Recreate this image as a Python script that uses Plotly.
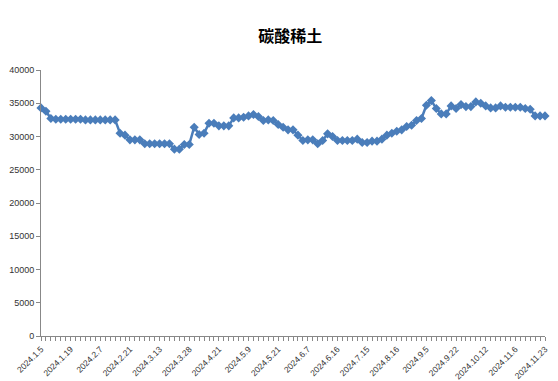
import plotly.graph_objects as go

title_text = "碳酸稀土"

tick_labels = ["2024.1.5", "2024.1.19", "2024.2.7", "2024.2.21", "2024.3.13", "2024.3.28",
               "2024.4.21", "2024.5.9", "2024.5.21", "2024.6.7", "2024.6.16", "2024.7.15",
               "2024.8.16", "2024.9.5", "2024.9.22", "2024.10.12", "2024.11.6", "2024.11.23"]
label_step = 6

prices = [34300, 33800, 32700, 32600, 32600, 32600, 32600, 32600, 32600, 32500,
          32500, 32500, 32500, 32500, 32500, 32500, 30500, 30200, 29500, 29500,
          29500, 28900, 28900, 28900, 28900, 28900, 28900, 28100, 28100, 28800,
          28800, 31400, 30300, 30500, 32000, 32000, 31600, 31600, 31600, 32800,
          32800, 32900, 33100, 33300, 33000, 32400, 32500, 32400, 31800, 31400,
          31000, 31000, 30200, 29400, 29500, 29500, 28900, 29400, 30400, 30000,
          29400, 29400, 29400, 29400, 29600, 29100, 29100, 29300, 29300, 29600,
          30200, 30500, 30800, 31000, 31500, 31700, 32400, 32700, 34700, 35400,
          34200, 33400, 33400, 34600, 34200, 34800, 34500, 34500, 35200, 35000,
          34600, 34300, 34300, 34600, 34400, 34400, 34400, 34400, 34200, 34100,
          33100, 33100, 33100]

y_ticks = [0, 5000, 10000, 15000, 20000, 25000, 30000, 35000, 40000]

x_idx = list(range(len(prices)))
tick_pos = [i * label_step for i in range(len(tick_labels))]

color = "#4A7DBA"

fig = go.Figure()
fig.add_trace(go.Scatter(
    x=x_idx, y=prices, mode="lines+markers",
    line=dict(color=color, width=2.5),
    marker=dict(symbol="diamond", size=7, color=color),
    cliponaxis=False, showlegend=False,
))

fig.update_layout(
    width=558, height=381,
    margin=dict(l=41, r=13, t=70, b=45),
    paper_bgcolor="white", plot_bgcolor="white",
    title=dict(text="<b>" + title_text + "</b>", x=0.52, xanchor="center", y=0.905, yanchor="middle",
               font=dict(family="Noto Sans CJK SC", size=16, color="black")),
    font=dict(family="Liberation Sans, Arial", size=9, color="#333333"),
)
fig.update_xaxes(
    automargin=False,
    range=[0, len(prices) - 1], tickmode="array", tickvals=tick_pos, ticktext=tick_labels,
    tickangle=-45, showgrid=False, zeroline=False, showline=True, linecolor="#888888",
    ticks="outside", ticklen=4, tickcolor="#888888",
    minor=dict(dtick=1, ticks="outside", ticklen=4, tickcolor="#888888", showgrid=False),
    tickfont=dict(size=8.5, color="#333333"),
)
fig.update_yaxes(
    automargin=False,
    range=[0, 40000], tickmode="array", tickvals=y_ticks, ticktext=[str(v) for v in y_ticks],
    showgrid=False, zeroline=False, showline=True, linecolor="#888888",
    ticks="outside", ticklen=4, tickcolor="#888888",
    tickfont=dict(size=9, color="#333333"),
)

fig.write_html("out.html", config={"displayModeBar": False},
               post_script="document.body.style.margin='0';document.body.style.overflow='hidden';")
